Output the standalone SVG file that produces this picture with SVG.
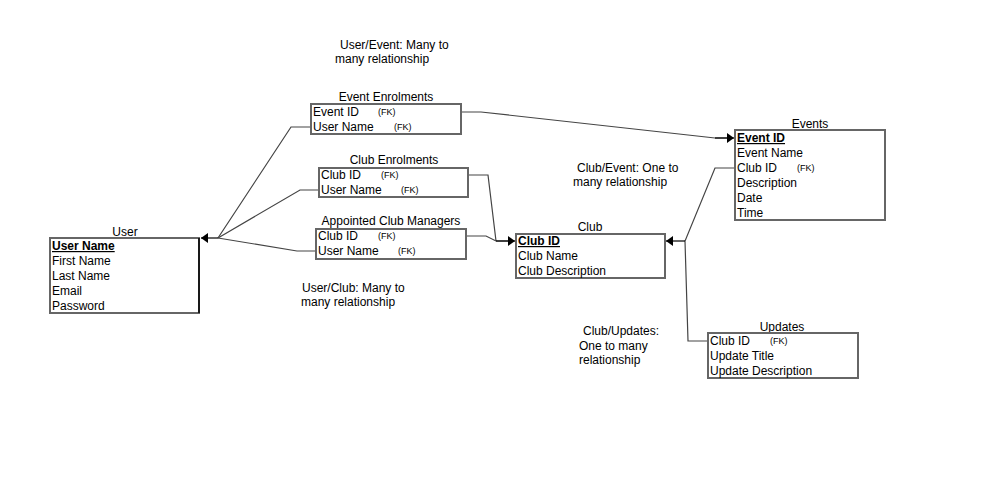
<svg xmlns="http://www.w3.org/2000/svg" width="995" height="499" viewBox="0 0 995 499">
<style>
text{font-family:"Liberation Sans",Arial,sans-serif;font-size:12px;fill:#000}
.t{text-anchor:middle}
.k{font-weight:bold;text-decoration:underline}
.fk{font-size:9px}
.box{fill:#fff;stroke:#666;stroke-width:2}
.c{fill:none;stroke:#444;stroke-width:1.2}
</style>
<defs>
<marker id="ar" markerWidth="8" markerHeight="10" refX="7" refY="5" orient="auto" markerUnits="userSpaceOnUse">
<path d="M0,0 L7,5 L0,10 Z" fill="#000"/>
</marker>
</defs>
<rect width="995" height="499" fill="#fff"/>
<g id="connectors">
<polyline class="c" points="218,238 291,127 311,127"/>
<polyline class="c" points="218,238 300,190 319,190"/>
<polyline class="c" points="218,238 297,251 316,251"/>
<line x1="218" y1="238" x2="201" y2="238" stroke="#000" stroke-width="1.2" marker-end="url(#ar)"/>
<polyline class="c" points="461,112 481,112 715,138 727,138"/>
<line x1="715" y1="138" x2="734" y2="138" stroke="#000" stroke-width="1.2" marker-end="url(#ar)"/>
<polyline class="c" points="468,175 488,175 496,241"/>
<polyline class="c" points="466,236 486,236 496,241 508,241"/>
<line x1="496" y1="241" x2="515" y2="241" stroke="#000" stroke-width="1.2" marker-end="url(#ar)"/>
<polyline class="c" points="735,168 715,168 685,241 688,341 708,341"/>
<line x1="685" y1="241" x2="666" y2="241" stroke="#000" stroke-width="1.2" marker-end="url(#ar)"/>
</g>
<g id="user">
<text class="t" x="125" y="236">User</text>
<rect class="box" x="50" y="238" width="149" height="75"/>
<line x1="199" y1="238" x2="199" y2="313" stroke="#000" stroke-width="1.5"/>
<text class="k" x="52" y="250">User Name</text>
<text x="52" y="265">First Name</text>
<text x="52" y="280">Last Name</text>
<text x="52" y="295">Email</text>
<text x="52" y="310">Password</text>
</g>
<g id="event-enrolments">
<text class="t" x="386" y="101">Event Enrolments</text>
<rect class="box" x="311" y="104" width="150" height="30"/>
<text x="313" y="116">Event ID</text><text class="fk" x="378" y="115">(FK)</text>
<text x="313" y="131">User Name</text><text class="fk" x="394" y="130">(FK)</text>
</g>
<g id="club-enrolments">
<text class="t" x="394" y="164">Club Enrolments</text>
<rect class="box" x="319" y="168" width="149" height="29"/>
<text x="321" y="179">Club ID</text><text class="fk" x="381" y="178">(FK)</text>
<text x="321" y="194">User Name</text><text class="fk" x="401" y="193">(FK)</text>
</g>
<g id="appointed-club-managers">
<text class="t" x="391" y="225">Appointed Club Managers</text>
<rect class="box" x="316" y="229" width="150" height="30"/>
<text x="318" y="240">Club ID</text><text class="fk" x="378" y="239">(FK)</text>
<text x="318" y="255">User Name</text><text class="fk" x="398" y="254">(FK)</text>
</g>
<g id="club">
<text class="t" x="590" y="231">Club</text>
<rect class="box" x="516" y="234" width="149" height="44"/>
<text class="k" x="518" y="245">Club ID</text>
<text x="518" y="260">Club Name</text>
<text x="518" y="275">Club Description</text>
</g>
<g id="events">
<text class="t" x="810" y="128">Events</text>
<rect class="box" x="735" y="130" width="150" height="90"/>
<text class="k" x="737" y="142">Event ID</text>
<text x="737" y="157">Event Name</text>
<text x="737" y="172">Club ID</text><text class="fk" x="797" y="171">(FK)</text>
<text x="737" y="187">Description</text>
<text x="737" y="202">Date</text>
<text x="737" y="217">Time</text>
</g>
<g id="updates">
<text class="t" x="782" y="331">Updates</text>
<rect class="box" x="708" y="333" width="150" height="45"/>
<text x="710" y="345">Club ID</text><text class="fk" x="770" y="344">(FK)</text>
<text x="710" y="360">Update Title</text>
<text x="710" y="375">Update Description</text>
</g>
<g id="labels">
<text x="340" y="49">User/Event: Many to</text>
<text x="335" y="63">many relationship</text>
<text x="577" y="172">Club/Event: One to</text>
<text x="573" y="186">many relationship</text>
<text x="302" y="292">User/Club: Many to</text>
<text x="301" y="306">many relationship</text>
<text x="583" y="335">Club/Updates:</text>
<text x="579" y="350">One to many</text>
<text x="579" y="364">relationship</text>
</g>
</svg>
